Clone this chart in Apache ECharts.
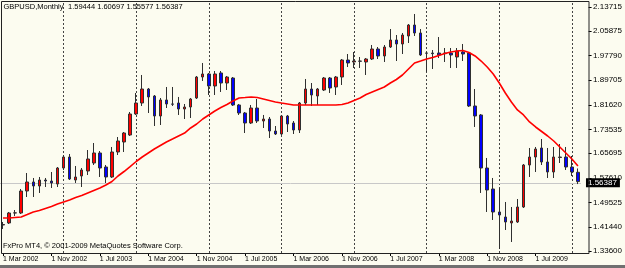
<!DOCTYPE html>
<html><head><meta charset="utf-8">
<script src="https://cdn.jsdelivr.net/npm/echarts@6/dist/echarts.min.js"></script>
<style>html,body{margin:0;padding:0;background:#fcfcf0}#c{width:625px;height:268px}</style>
</head><body><div id="c"></div>
<script>
// ---- data ----
const symbolTitle = 'GBPUSD,Monthly';
const lastBarText = '1.59444 1.60697 1.55577 1.56387';
const footerText = 'FxPro MT4, \u00A9 2001-2009 MetaQuotes Software Corp.';
const monthNames = ['Jan','Feb','Mar','Apr','May','Jun','Jul','Aug','Sep','Oct','Nov','Dec'];
const firstYear = 2002, firstMonth = 2, barCount = 96;   // 1 Mar 2002 .. 1 Feb 2010
const categories = [];
for (let i = 0; i < barCount; i++) {
  const m = firstMonth + i;
  categories.push('1 ' + monthNames[m % 12] + ' ' + (firstYear + Math.floor(m / 12)));
}
const opens = [1.4214,1.4280,1.4608,1.4608,1.5330,1.5626,1.5494,1.5691,1.5658,1.5560,
1.6085,1.6446,1.5691,1.5823,1.5987,1.6249,1.6578,1.6118,1.5790,1.6611,
1.6939,1.7169,1.7858,1.8219,1.8679,1.8449,1.7793,1.8318,1.8187,1.8219,
1.8022,1.8088,1.8384,1.9073,1.9172,1.8778,1.9205,1.8876,1.9040,1.8154,
1.7891,1.7563,1.8055,1.7628,1.7694,1.7300,1.7202,1.7793,1.7563,1.7333,
1.8219,1.8679,1.8449,1.8646,1.9040,1.8745,1.9073,1.9631,1.9566,1.9598,
1.9566,1.9664,1.9992,1.9763,2.0058,2.0288,2.0157,2.0419,2.0780,2.0518,
1.9861,1.9861,1.9861,1.9861,1.9861,1.9730,1.9894,1.9861,1.8121,1.7826,
1.6085,1.5396,1.4641,1.4476,1.4280,1.4312,1.4805,1.6184,1.6446,1.6742,
1.6282,1.5954,1.6430,1.6446,1.6118,1.59444];
const highs = [1.4312,1.4641,1.4706,1.5396,1.5921,1.5757,1.5790,1.5757,1.5954,1.6118,
1.6512,1.6545,1.6151,1.6085,1.6676,1.6906,1.6643,1.6184,1.6775,1.7103,
1.7267,1.7924,1.8548,1.9139,1.8712,1.8482,1.8384,1.8745,1.8745,1.8417,
1.8187,1.8384,1.9106,1.9533,1.9205,1.9270,1.9270,1.9106,1.9073,1.8187,
1.7924,1.8154,1.8351,1.7826,1.7760,1.7464,1.7826,1.7826,1.7628,1.8252,
1.9008,1.8876,1.8712,1.9073,1.9073,1.9106,1.9664,1.9828,1.9894,1.9730,
1.9697,2.0124,2.0058,2.0124,2.0649,2.0452,2.0518,2.0813,2.1142,2.0649,
1.9894,1.9959,2.0386,2.0025,2.0025,2.0025,2.0157,1.9880,1.8679,1.7858,
1.6414,1.5757,1.5429,1.4969,1.4805,1.5067,1.6217,1.6742,1.6775,1.7037,
1.6742,1.6775,1.6873,1.6775,1.6479,1.60697];
const lows = [1.4083,1.4247,1.4509,1.4575,1.5133,1.5133,1.5265,1.5461,1.5429,1.5461,
1.6020,1.5691,1.5593,1.5461,1.5855,1.6184,1.5790,1.5593,1.5757,1.6512,
1.6611,1.7136,1.7826,1.8121,1.7891,1.7464,1.7497,1.8055,1.8121,1.7826,
1.7694,1.7727,1.8351,1.8942,1.8482,1.8482,1.8581,1.8646,1.8121,1.7826,
1.7234,1.7530,1.7563,1.7399,1.7070,1.7169,1.7169,1.7267,1.7202,1.7234,
1.8154,1.8121,1.8154,1.8614,1.8548,1.8482,1.8811,1.9401,1.9369,1.9369,
1.9139,1.9631,1.9664,1.9566,2.0025,1.9598,1.9828,2.0189,2.0419,1.9763,
1.9237,1.9336,1.9697,1.9566,1.9369,1.9369,1.9598,1.8088,1.7432,1.5265,
1.4641,1.4378,1.3426,1.4050,1.3656,1.4280,1.4772,1.5790,1.5954,1.6184,
1.5757,1.5757,1.6249,1.6020,1.5823,1.55577];
const closes = [1.4230,1.4608,1.4612,1.5330,1.5626,1.5494,1.5691,1.5658,1.5593,1.6085,
1.6446,1.5724,1.5790,1.6020,1.6381,1.6578,1.6085,1.5790,1.6611,1.6972,
1.7234,1.7858,1.8219,1.8679,1.8417,1.7793,1.8318,1.8187,1.8180,1.8022,
1.8088,1.8351,1.9073,1.9172,1.8778,1.9172,1.8876,1.9073,1.8154,1.7891,
1.7563,1.8055,1.7628,1.7694,1.7300,1.7202,1.7793,1.7530,1.7333,1.8219,
1.8679,1.8482,1.8679,1.9040,1.8712,1.9073,1.9631,1.9533,1.9598,1.9590,
1.9664,1.9992,1.9763,2.0058,2.0288,2.0157,2.0452,2.0780,2.0518,1.9795,
1.9855,1.9840,1.9795,1.9840,1.9795,1.9927,1.9828,1.8121,1.7793,1.6085,
1.5363,1.4641,1.4542,1.4312,1.4345,1.4805,1.6184,1.6446,1.6709,1.6282,
1.5954,1.6446,1.6446,1.6118,1.5954,1.56387];
const maValues = [1.4444,1.4444,1.4460,1.4476,1.4558,1.4641,1.4690,1.4756,1.4821,1.4903,
1.4969,1.5034,1.5117,1.5182,1.5265,1.5347,1.5429,1.5527,1.5642,1.5823,
1.5970,1.6134,1.6299,1.6446,1.6578,1.6709,1.6824,1.6939,1.7037,1.7136,
1.7234,1.7399,1.7530,1.7694,1.7826,1.7957,1.8072,1.8170,1.8285,1.8384,
1.8400,1.8417,1.8400,1.8351,1.8302,1.8252,1.8219,1.8187,1.8154,1.8154,
1.8154,1.8154,1.8154,1.8154,1.8154,1.8154,1.8170,1.8219,1.8302,1.8384,
1.8498,1.8581,1.8663,1.8745,1.8876,1.8991,1.9139,1.9336,1.9533,1.9598,
1.9664,1.9713,1.9779,1.9845,1.9894,1.9927,1.9943,1.9877,1.9763,1.9598,
1.9401,1.9172,1.8876,1.8548,1.8252,1.7990,1.7826,1.7596,1.7432,1.7284,
1.7136,1.6972,1.6775,1.6578,1.6381,1.6151];
const priceTicks = [2.13715,2.05875,1.97790,1.89705,1.81620,1.73535,1.65695,1.57610,1.49525,1.41440,1.33600];
const currentPrice = 1.56387;
const priceMin = 1.32944, priceMax = 2.15357;

// ---- chart ----
const candleData = opens.map((o, i) => [o, closes[i], lows[i], highs[i]]);
const yearStarts = categories.filter(c => c.indexOf(' Jan ') >= 0);
const FONT = "'Liberation Sans', Arial, sans-serif";

const chart = echarts.init(document.getElementById('c'), null, {renderer: 'canvas'});
chart.setOption({
  animation: false,
  backgroundColor: '#fcfcf0',
  grid: {left: -0.3, width: 584.2, top: 2, bottom: 15, containLabel: false},
  xAxis: {
    type: 'category', data: categories, boundaryGap: true,
    axisLine: {show: false},
    axisTick: {show: true, alignWithLabel: true, length: 3, interval: (i) => i % 8 === 0,
      lineStyle: {color: '#000', width: 1}},
    axisLabel: {show: true, interval: (i) => i % 8 === 0, align: 'left', margin: 3,
      fontSize: 7, fontFamily: FONT, color: '#000', padding: [0, 0, 0, 0]},
    splitLine: {show: false}
  },
  yAxis: {
    type: 'value', position: 'right', min: priceMin, max: priceMax, offset: 7.6,
    axisLine: {show: false},
    axisTick: {show: true, customValues: priceTicks, length: 3, inside: false,
      lineStyle: {color: '#000'}},
    axisLabel: {show: true, customValues: priceTicks, margin: 4.5, fontSize: 8,
      fontFamily: FONT, color: '#000', formatter: (v) => v.toFixed(5)},
    splitLine: {show: false}
  },
  series: [
    {
      type: 'candlestick', data: candleData, barWidth: 3,
      itemStyle: {color: '#ff0000', color0: '#0000ff', borderColor: '#303030',
        borderColor0: '#303030', borderColorDoji: '#303030', borderWidth: 1},
      markLine: {
        silent: true, symbol: ['none', 'none'], z: 1, animation: false,
        data: [
          ...yearStarts.map(c => ({xAxis: c, label: {show: false},
            lineStyle: {color: '#444', type: [2, 2], width: 1}})),
          {yAxis: currentPrice,
           lineStyle: {color: '#c8c8c8', type: 'solid', width: 1},
           label: {show: true, position: 'end', distance: 5,
             formatter: () => currentPrice.toFixed(5),
             backgroundColor: '#000', color: '#fff', fontSize: 8, fontFamily: FONT,
             padding: [1, 3, 0, 2], lineHeight: 8}}
        ]
      }
    },
    {
      type: 'line', data: maValues, showSymbol: false, symbol: 'none', smooth: false,
      lineStyle: {color: '#ff0000', width: 1.6}, itemStyle: {color: '#ff0000'}, z: 3
    }
  ],
  graphic: [
    {type: 'rect', silent: true, z: 10,
     shape: {x: 1.5, y: 1.5, width: 587.5, height: 252},
     style: {fill: null, stroke: '#222', lineWidth: 1}},
    {type: 'text', left: 3.5, top: 2.5, z: 11,
     style: {text: symbolTitle, fontSize: 7.5, fontFamily: FONT, fill: '#000'}},
    {type: 'text', left: 68, top: 2.5, z: 11,
     style: {text: lastBarText, fontSize: 7.5, fontFamily: FONT, fill: '#000'}},
    {type: 'text', left: 3, top: 241.5, z: 11,
     style: {text: footerText, fontSize: 7.5, fontFamily: FONT, fill: '#000'}},
    {type: 'rect', silent: true, z: 10, shape: {x: 0, y: 265, width: 625, height: 3},
     style: {fill: '#707070'}}
  ]
});
</script>
</body></html>
